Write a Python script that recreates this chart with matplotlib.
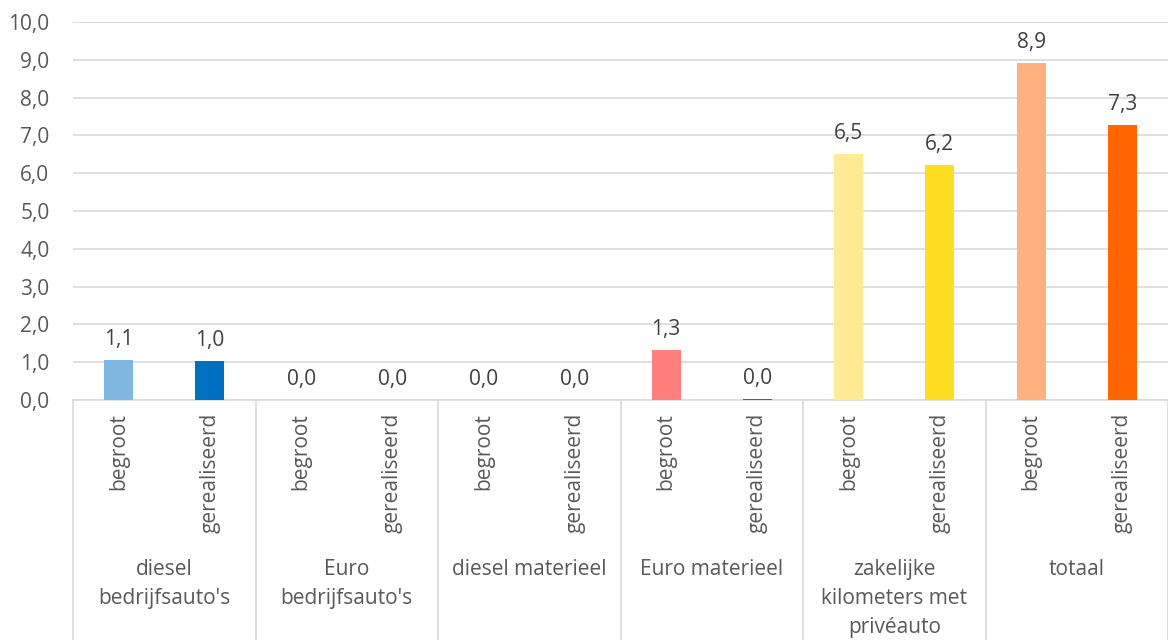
import matplotlib
matplotlib.use("Agg")
import matplotlib.pyplot as plt
import matplotlib.transforms as mtransforms
import numpy as np

plt.rcParams["font.family"] = ["Open Sans", "DejaVu Sans"]

# data (values in the source unit)
groups = ["diesel\nbedrijfsauto's", "Euro\nbedrijfsauto's", "diesel materieel",
          "Euro materieel", "zakelijke\nkilometers met\npriv\u00e9auto", "totaal"]
sub_labels = ["begroot", "gerealiseerd"]
begroot = [1.07, 0.0, 0.0, 1.33, 6.51, 8.92]
gerealiseerd = [1.04, 0.0, 0.0, 0.03, 6.22, 7.28]
colors_begroot = ["#7FB7E0", "#7FB7E0", "#7FB7E0", "#FF7F7F", "#FFEB93", "#FFB07F"]
colors_gerealiseerd = ["#0070C0", "#0070C0", "#0070C0", "#E8272A", "#FFDE21", "#FF6600"]
y_ticks = np.arange(0, 11, 1)

FS = 15

fig = plt.figure(figsize=(11.68, 6.4), dpi=100)
ax = fig.add_axes([73 / 1168, 240 / 640, 1 - 73 / 1168, 378 / 640])

n = len(groups)
x_b = np.arange(n) * 2 + 0.5
x_g = np.arange(n) * 2 + 1.5
bar_w = 0.32

ax.bar(x_b, begroot, width=bar_w, color=colors_begroot, zorder=3)
ax.bar(x_g, gerealiseerd, width=bar_w, color=colors_gerealiseerd, zorder=3)

label_color = "#404040"
for xs, vals in ((x_b, begroot), (x_g, gerealiseerd)):
    for x, v in zip(xs, vals):
        ax.annotate(f"{v:.1f}".replace(".", ","), (x, v), xytext=(0, 10),
                    textcoords="offset pixels", ha="center", va="bottom",
                    fontsize=FS, color=label_color)

ax.set_xlim(0, 2 * n)
ax.set_ylim(0, 10)
ax.set_yticks(y_ticks)
ax.set_yticklabels([f"{t:.1f}".replace(".", ",") for t in y_ticks],
                   fontsize=FS, color="#595959")
ax.tick_params(axis="y", length=0, pad=17)
ax.tick_params(axis="x", length=0, labelbottom=False)
ax.grid(axis="y", color="#D9D9D9", linewidth=1.2, zorder=0)
for s in ("top", "right", "left"):
    ax.spines[s].set_visible(False)
ax.spines["bottom"].set_color("#D9D9D9")
ax.spines["bottom"].set_linewidth(1.2)

# hierarchical category axis
trans = mtransforms.blended_transform_factory(ax.transData, ax.transAxes)
for i in range(n + 1):
    ax.plot([2 * i, 2 * i], [0, -240 / 378], transform=trans, color="#D9D9D9",
            linewidth=1.2, clip_on=False)
for xs, name in ((x_b, sub_labels[0]), (x_g, sub_labels[1])):
    for x in xs:
        ax.text(x, -13 / 378, name, transform=trans, rotation=90, ha="center",
                va="top", fontsize=FS, color="#595959")
for i, g in enumerate(groups):
    ax.text(2 * i + 1, -159 / 378, g, transform=trans, ha="center", va="top",
            fontsize=FS, color="#595959", linespacing=1.5)

fig.savefig("out.png", dpi=100)
